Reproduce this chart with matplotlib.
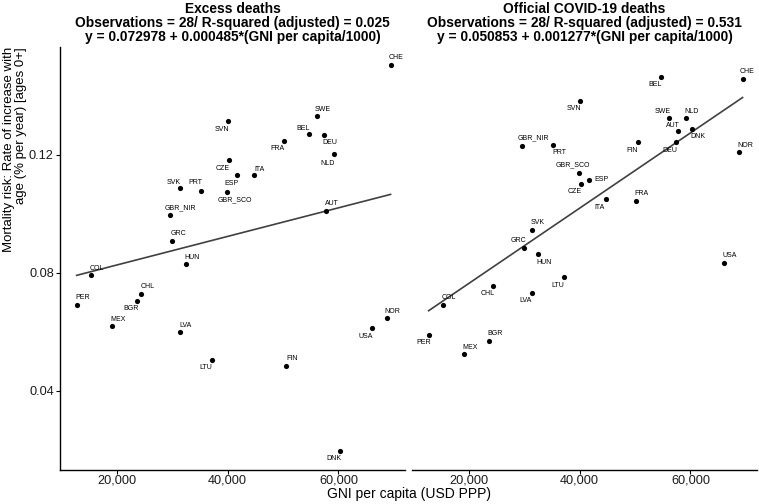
import numpy as np
import matplotlib.pyplot as plt
from matplotlib.ticker import FuncFormatter

plt.rcParams['font.family'] = ['Liberation Sans', 'DejaVu Sans']

# ---------- data ----------
countries = ["PER", "COL", "MEX", "BGR", "CHL", "GBR_NIR", "GRC", "SVK", "LVA", "HUN",
             "PRT", "LTU", "SVN", "GBR_SCO", "CZE", "ESP", "ITA", "FRA", "FIN", "BEL",
             "SWE", "DEU", "AUT", "NLD", "DNK", "USA", "NOR", "CHE"]
gni = [12800, 15300, 19250, 23750, 24450, 29700, 30050, 31400, 31350, 32600,
       35200, 37150, 40000, 39950, 40250, 41750, 44700, 50100, 50550, 54750,
       56100, 57350, 57800, 59150, 60350, 66050, 68750, 69400]
excess = [0.0690, 0.0793, 0.0620, 0.0706, 0.0729, 0.0998, 0.0910, 0.1087, 0.0599, 0.0829,
          0.1078, 0.0506, 0.1315, 0.1075, 0.1182, 0.1132, 0.1132, 0.1248, 0.0485, 0.1271,
          0.1332, 0.1268, 0.1011, 0.1202, 0.0197, 0.0612, 0.0646, 0.1505]
official = [0.0590, 0.0693, 0.0524, 0.0570, 0.0756, 0.1232, 0.0886, 0.0946, 0.0733, 0.0863,
            0.1234, 0.0786, 0.1383, 0.1138, 0.1102, 0.1115, 0.1050, 0.1044, 0.1243, 0.1465,
            0.1325, 0.1243, 0.1281, 0.1324, 0.1289, 0.0834, 0.1210, 0.1458]

# regression coefficients (intercept, slope per 1000 USD)
coef_excess = [0.072978, 0.000485]
coef_official = [0.050853, 0.001277]

titles = [
    "Excess deaths\nObservations = 28/ R-squared (adjusted) = 0.025\n"
    "y = 0.072978 + 0.000485*(GNI per capita/1000)",
    "Official COVID-19 deaths\nObservations = 28/ R-squared (adjusted) = 0.531\n"
    "y = 0.050853 + 0.001277*(GNI per capita/1000)",
]

# label offsets in pixels (dx right, dy down) - repel style
off_excess = {
    "SWE": (6, -7), "SVN": (-6, 8), "BEL": (-6, -6), "DEU": (6, 8), "FRA": (-6, 8),
    "NLD": (-6, 9), "CZE": (-6, 8), "ITA": (6, -6), "ESP": (-6, 8), "SVK": (-6, -6),
    "PRT": (-6, -8), "GBR_SCO": (8, 8), "GBR_NIR": (10, -7), "AUT": (6, -7),
    "GRC": (6, -7), "CHE": (5, -7), "HUN": (6, -7), "COL": (6, -7), "PER": (6, -8),
    "CHL": (6, -7), "BGR": (-6, 8), "MEX": (6, -7), "LVA": (6, -7), "USA": (-6, 8),
    "LTU": (-6, 8), "FIN": (6, -7), "DNK": (-6, 8), "NOR": (5, -7),
}
off_official = {
    "CHE": (4, -7), "BEL": (-6, 8), "SVN": (-6, 8), "SWE": (-6, -7), "NLD": (6, -7),
    "AUT": (-5, -6), "DNK": (6, 8), "DEU": (-6, 8), "FIN": (-6, 8), "GBR_NIR": (11, -8),
    "PRT": (6, 8), "GBR_SCO": (-6, -8), "ESP": (12, -1), "CZE": (-6, 8), "ITA": (-6, 8),
    "FRA": (6, -7), "SVK": (6, -7), "GRC": (-6, -7), "HUN": (6, 8), "USA": (6, -7),
    "LTU": (-6, 8), "CHL": (-6, 8), "LVA": (-6, 8), "COL": (6, -7), "PER": (-5, 8),
    "BGR": (6, -7), "MEX": (6, -7),
}

fig = plt.figure(figsize=(7.59, 5.04), dpi=100)
W, H = 759, 504
ax1 = fig.add_axes([60 / W, 1 - 470 / H, 345 / W, 423 / H])
ax2 = fig.add_axes([412 / W, 1 - 470 / H, 345 / W, 423 / H])

xs = np.array(gni)
xline = np.array([xs.min(), xs.max()])

panels = [(ax1, excess, coef_excess, off_excess, titles[0]),
          (ax2, official, coef_official, off_official, titles[1])]

for ax, yvals, coef, offs, title in panels:
    ax.plot(xline, coef[0] + coef[1] * xline / 1000, color="#404040", lw=1.2, zorder=2)
    ax.scatter(gni, yvals, s=14, color="black", zorder=3, linewidths=0)
    for c, x, y in zip(countries, gni, yvals):
        dx, dy = offs.get(c, (6, -7))
        ax.annotate(c, (x, y), xytext=(dx * 0.72, -dy * 0.72), textcoords="offset points",
                    ha="center", va="center", fontsize=5, color="black")

    ax.set_xlim(9800, 72000)
    ax.set_ylim(0.0132, 0.1566)
    ax.set_xticks([20000, 40000, 60000])
    ax.xaxis.set_major_formatter(FuncFormatter(lambda v, p: f"{int(v):,}"))
    ax.tick_params(axis="x", labelsize=9.2, length=3, width=0.8, colors="black",
                   labelcolor="#1a1a1a", pad=0.5)
    for s in ["top", "right"]:
        ax.spines[s].set_visible(False)
    ax.spines["bottom"].set_linewidth(1.0)
    ax.set_title(title, fontsize=9.9, fontweight="bold", linespacing=1.0, pad=4)

ax1.set_yticks([0.04, 0.08, 0.12])
ax1.yaxis.set_major_formatter(FuncFormatter(lambda v, p: f"{v:.2f}"))
ax1.tick_params(axis="y", labelsize=9.2, length=3, width=0.8, labelcolor="#1a1a1a", pad=1.5)
ax1.spines["left"].set_linewidth(1.0)
ax1.set_ylabel("Mortality risk: Rate of increase with\nage (% per year) [ages 0+]",
               fontsize=9.5, linespacing=1.1, labelpad=1, loc="top")

ax2.spines["left"].set_visible(False)
ax2.set_yticks([])

fig.text((60 + 757) / 2 / W, 1 - 494 / H, "GNI per capita (USD PPP)",
         ha="center", va="center", fontsize=10)

fig.savefig("out.png", dpi=100)
